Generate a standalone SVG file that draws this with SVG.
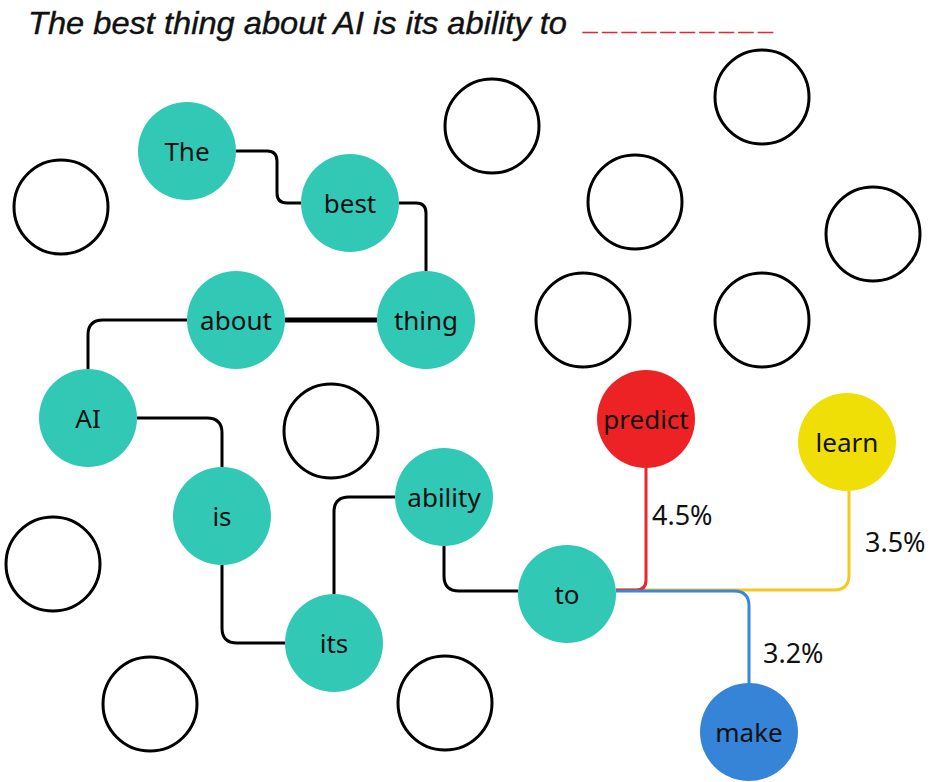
<svg xmlns="http://www.w3.org/2000/svg" width="937" height="782" viewBox="0 0 937 782">
<style>
.n{fill:#31C8B6}
.e{fill:none;stroke:#000;stroke-width:3}
.t{font-family:"Noto Sans","DejaVu Sans",sans-serif;font-size:26px;fill:#111;text-anchor:middle;dominant-baseline:central}
.c{fill:none;stroke:#000;stroke-width:3;stroke-linejoin:round}
.p{font-family:"Noto Sans","DejaVu Sans",sans-serif;font-size:27px;fill:#111}
</style>
<rect width="937" height="782" fill="#fff"/>
<text x="28" y="34" font-family="Liberation Sans, Arial, sans-serif" font-style="italic" font-size="32" fill="#111" stroke="#111" stroke-width="0.4" textLength="539" lengthAdjust="spacingAndGlyphs">The best thing about AI is its ability to</text>
<text x="583" y="30" font-family="Liberation Sans, Arial, sans-serif" font-size="26" font-weight="bold" fill="#E8262B" stroke="#E8262B" stroke-width="0.6" letter-spacing="5">__________</text>
<g id="connectors">
<path class="c" d="M236,151 H267 Q277,151 277,161 V193 Q277,203 287,203 H301"/>
<path class="c" d="M399,203 H416 Q426,203 426,213 V271"/>
<path class="c" d="M285,320 H377" style="stroke-width:5"/>
<path class="c" d="M187,320 H103 Q88,320 88,335 V369"/>
<path class="c" d="M137,418 H207 Q222,418 222,433 V467"/>
<path class="c" d="M222,565 V628 Q222,643 237,643 H285"/>
<path class="c" d="M334,594 V512 Q334,497 349,497 H395"/>
<path class="c" d="M444,546 V576 Q444,591 459,591 H518"/>
<path fill="none" stroke="#F7C820" stroke-width="3" d="M616,590 H834 Q849,590 849,575 V491"/>
<path fill="none" stroke="#E8262B" stroke-width="3" d="M616,590 H636 Q646,590 646,580 V468"/>
<path fill="none" stroke="#3A86D8" stroke-width="3" d="M616,591 H734 Q749,591 749,606 V683"/>
<text class="p" x="652" y="525">4.5%</text>
<text class="p" x="865" y="552">3.5%</text>
<text class="p" x="763" y="663">3.2%</text>
</g>
<g id="empty">
<circle class="e" cx="61" cy="207" r="47"/>
<circle class="e" cx="492" cy="126" r="47"/>
<circle class="e" cx="762" cy="97" r="47"/>
<circle class="e" cx="635" cy="202" r="47"/>
<circle class="e" cx="873" cy="234" r="47"/>
<circle class="e" cx="583" cy="320" r="47"/>
<circle class="e" cx="762" cy="320" r="47"/>
<circle class="e" cx="331" cy="431" r="47"/>
<circle class="e" cx="53" cy="564" r="47"/>
<circle class="e" cx="150" cy="704" r="47"/>
<circle class="e" cx="445" cy="703" r="47"/>
</g>
<g id="n-the"><circle class="n" cx="187" cy="151" r="49"/><text class="t" x="187" y="151">The</text></g>
<g id="n-best"><circle class="n" cx="350" cy="203" r="49"/><text class="t" x="350" y="203">best</text></g>
<g id="n-thing"><circle class="n" cx="426" cy="320" r="49"/><text class="t" x="426" y="320">thing</text></g>
<g id="n-about"><circle class="n" cx="236" cy="320" r="49"/><text class="t" x="236" y="320">about</text></g>
<g id="n-ai"><circle class="n" cx="88" cy="418" r="49"/><text class="t" x="88" y="418">AI</text></g>
<g id="n-is"><circle class="n" cx="222" cy="516" r="49"/><text class="t" x="222" y="516">is</text></g>
<g id="n-its"><circle class="n" cx="334" cy="643" r="49"/><text class="t" x="334" y="643">its</text></g>
<g id="n-ability"><circle class="n" cx="444" cy="497" r="49"/><text class="t" x="444" y="497">ability</text></g>
<g id="n-to"><circle class="n" cx="567" cy="594" r="49"/><text class="t" x="567" y="594">to</text></g>
<g id="n-predict"><circle cx="646" cy="419" r="49" fill="#ED2224"/><text class="t" x="646" y="419">predict</text></g>
<g id="n-learn"><circle cx="847" cy="442" r="49" fill="#F0DF07"/><text class="t" x="847" y="442">learn</text></g>
<g id="n-make"><circle cx="749" cy="732" r="49" fill="#3584D8"/><text class="t" x="749" y="732">make</text></g>
</svg>
